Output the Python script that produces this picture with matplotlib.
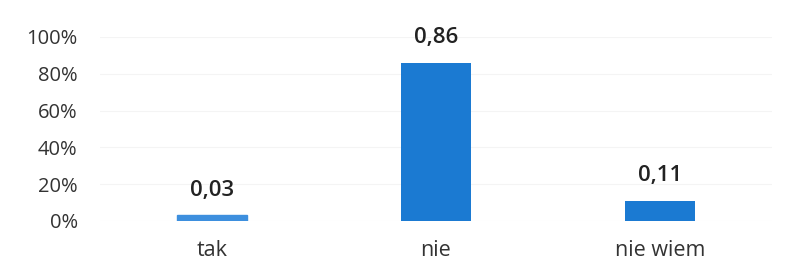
import matplotlib.pyplot as plt
from matplotlib.ticker import PercentFormatter

categories = ['tak', 'nie', 'nie wiem']
values = [0.03, 0.86, 0.11]
labels = ['0,03', '0,86', '0,11']
yticks = [0, 0.2, 0.4, 0.6, 0.8, 1.0]

plt.rcParams['font.family'] = ['Open Sans', 'DejaVu Sans']

fig = plt.figure(figsize=(7.99, 2.72), dpi=100)
ax = fig.add_axes([0.125, 0.1875, 0.841, 0.677])

x = range(len(categories))
bars = ax.bar(x, values, width=0.31, color='#1b7ad2')
bars[0].set_color('#3d8fde')

for b, lab in zip(bars, labels):
    ax.text(b.get_x() + b.get_width() / 2, b.get_height() + 0.08, lab,
            ha='center', va='bottom', fontsize=16, fontweight='semibold',
            color='#222222')

ax.set_xlim(-0.5, 2.5)
ax.set_ylim(0, 1.0)
ax.set_yticks(yticks)
ax.yaxis.set_major_formatter(PercentFormatter(1.0, decimals=0))
ax.set_xticks(list(x))
ax.set_xticklabels(categories)
ax.tick_params(axis='both', length=0, colors='#333333')
ax.tick_params(axis='y', pad=16, labelsize=14.5)
ax.tick_params(axis='x', pad=14, labelsize=15.5)
ax.grid(axis='y', color='#f4f4f4', linewidth=0.8)
ax.set_axisbelow(True)
for s in ax.spines.values():
    s.set_visible(False)

fig.savefig('out.png', dpi=100)
